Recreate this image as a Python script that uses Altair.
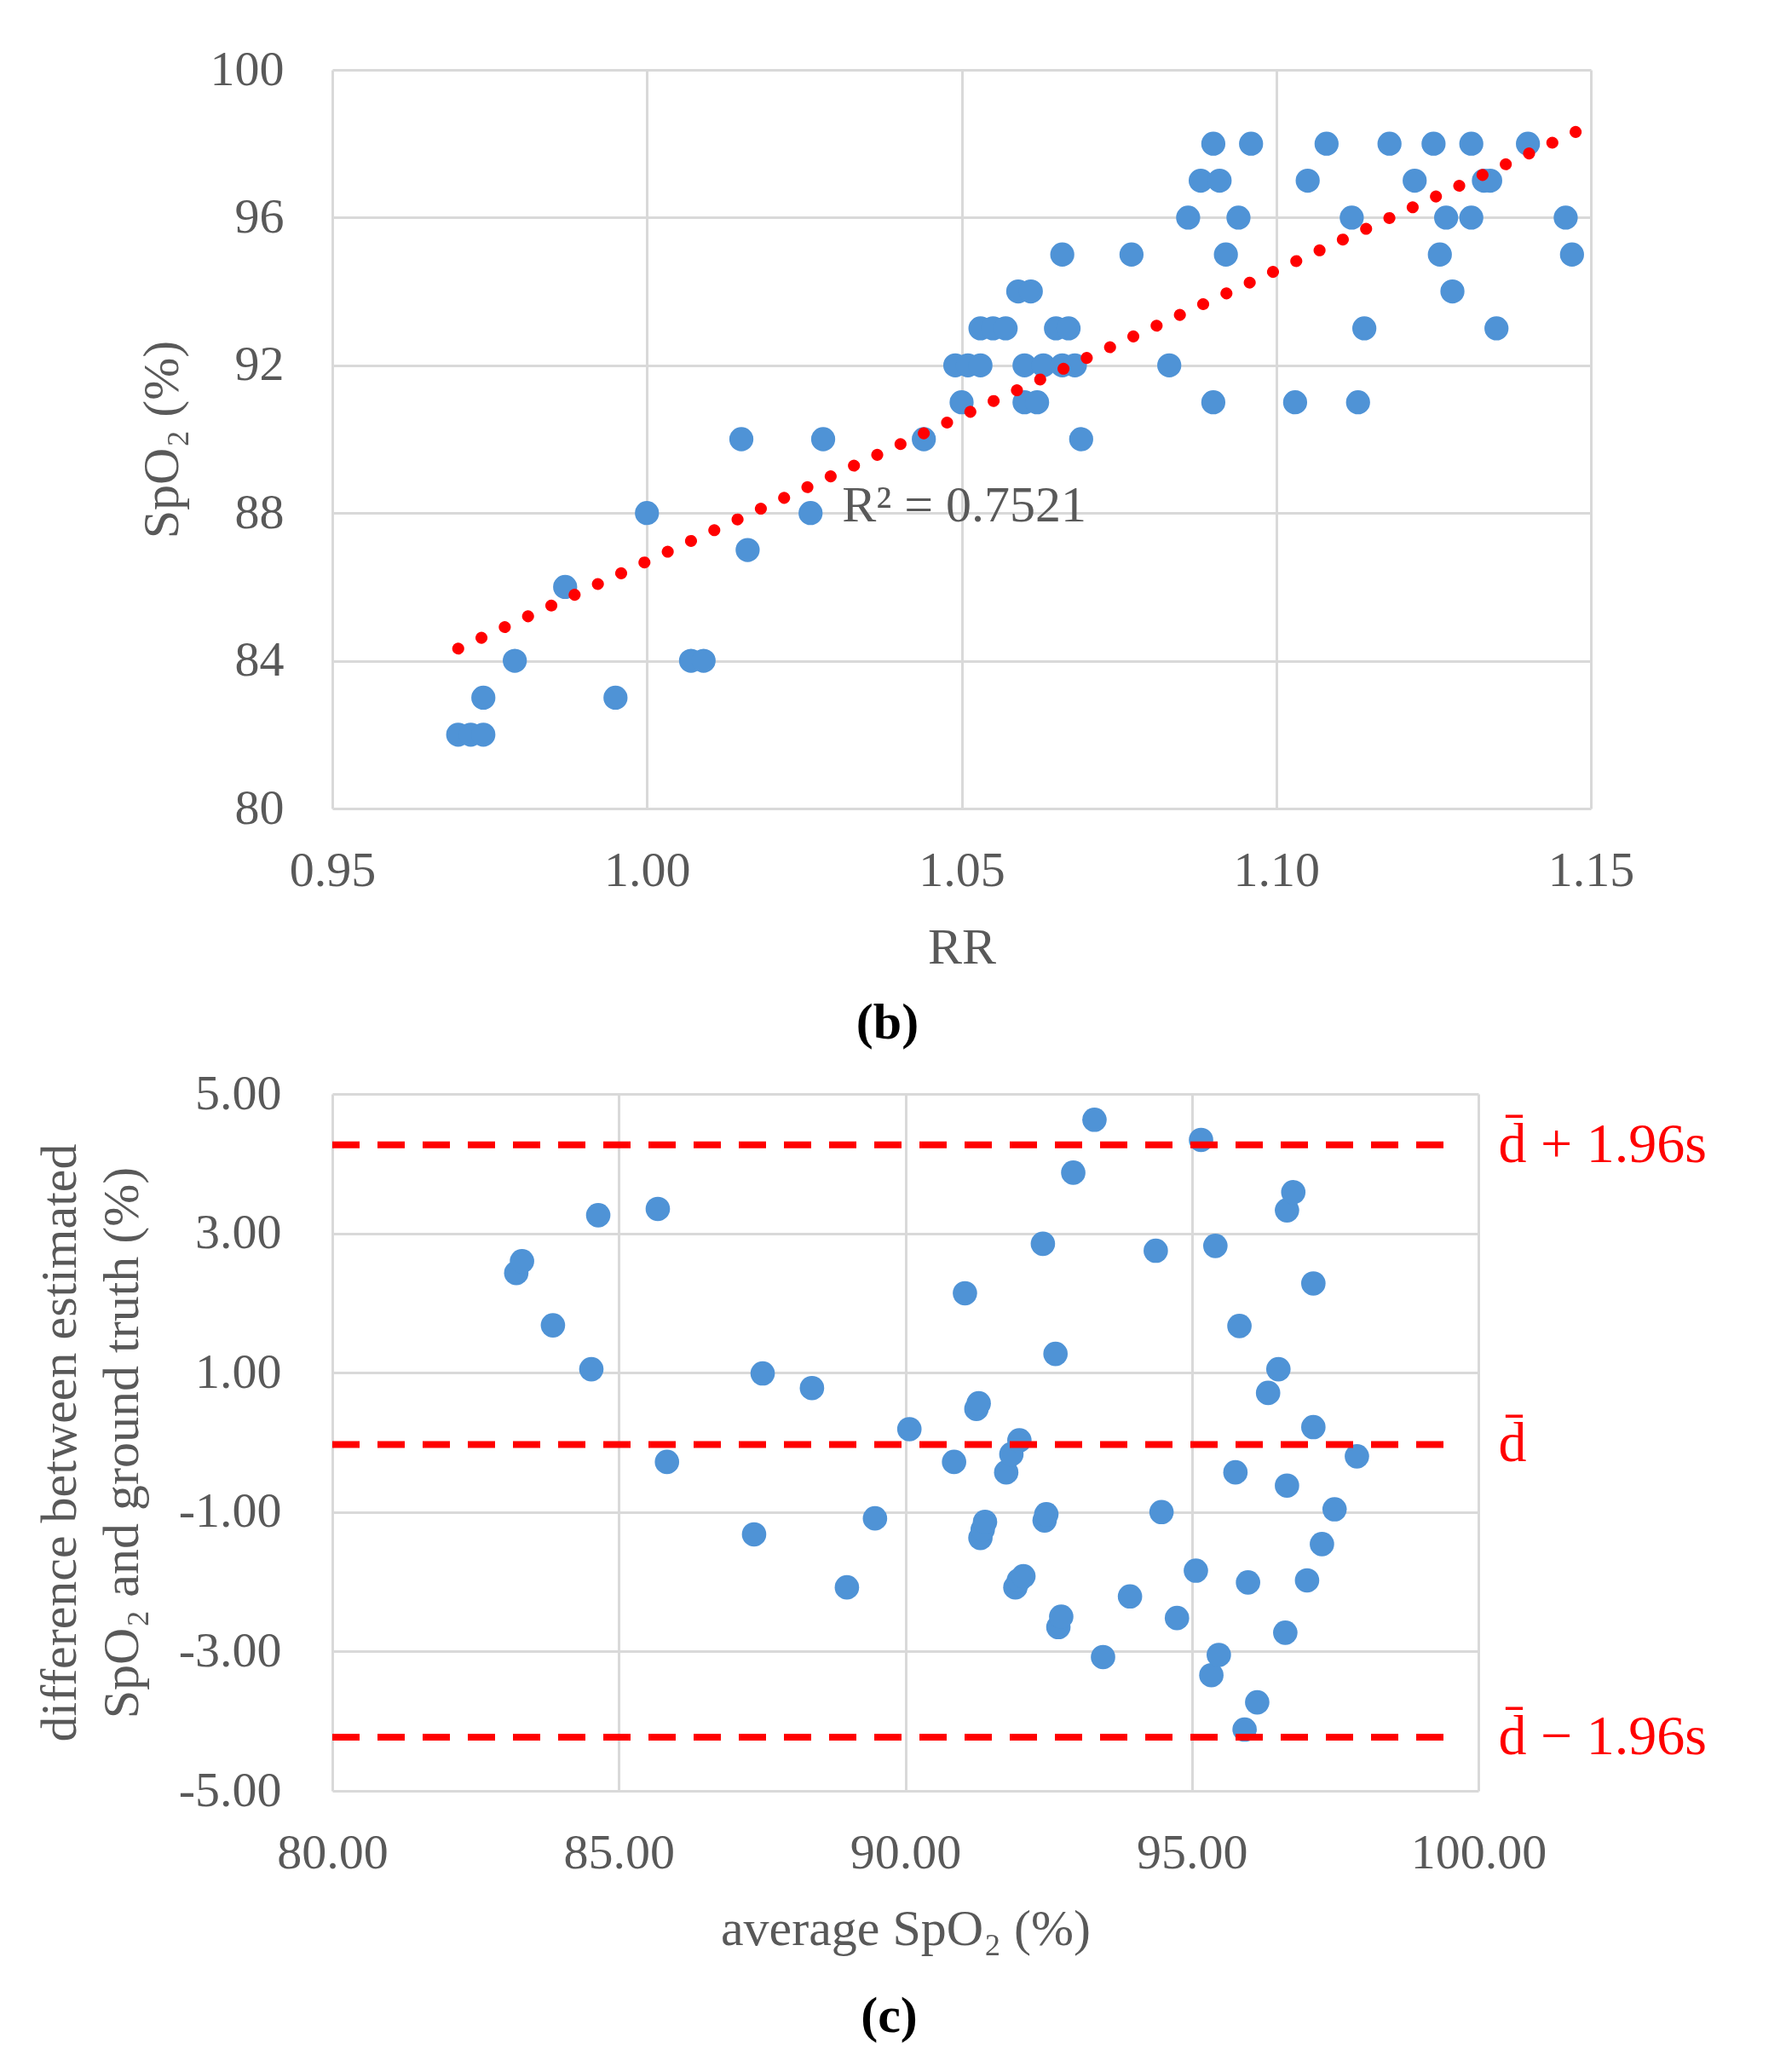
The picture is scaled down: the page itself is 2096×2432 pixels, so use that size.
import altair as alt
import pandas as pd

# ---------------- panel (b): SpO2 vs RR ----------------
rr = [0.970, 0.972, 0.974,
      0.974, 0.995,
      0.979, 1.007, 1.009,
      0.987,
      1.016,
      1.000, 1.026,
      1.015, 1.028, 1.044, 1.069,
      1.050, 1.060, 1.062, 1.090, 1.103, 1.113,
      1.049, 1.051, 1.053, 1.060, 1.063, 1.066, 1.068, 1.083,
      1.053, 1.055, 1.057, 1.065, 1.067, 1.114, 1.135,
      1.059, 1.061, 1.128,
      1.066, 1.077, 1.092, 1.126, 1.147,
      1.086, 1.094, 1.112, 1.127, 1.131, 1.146,
      1.088, 1.091, 1.105, 1.122, 1.133, 1.134,
      1.090, 1.096, 1.108, 1.118, 1.125, 1.131, 1.140]
spo2 = [82, 82, 82,
        83, 83,
        84, 84, 84,
        86,
        87,
        88, 88,
        90, 90, 90, 90,
        91, 91, 91, 91, 91, 91,
        92, 92, 92, 92, 92, 92, 92, 92,
        93, 93, 93, 93, 93, 93, 93,
        94, 94, 94,
        95, 95, 95, 95, 95,
        96, 96, 96, 96, 96, 96,
        97, 97, 97, 97, 97, 97,
        98, 98, 98, 98, 98, 98, 98]
trend_rr = [0.970, 1.150]
trend_spo2 = [84.33, 98.51]
r2_text = ["R\u00b2 = 0.7521"]
r2_rr = [1.031]
r2_spo2 = [88.2]
rr_ticks = [0.95, 1.00, 1.05, 1.10, 1.15]
spo2_ticks = [80, 84, 88, 92, 96, 100]

# ---------------- panel (c): Bland-Altman ----------------
avg_spo2 = [83.21, 83.31, 83.85, 84.52, 84.64, 85.68, 85.84, 87.36, 87.51, 88.37,
            88.98, 89.47, 90.07, 90.85, 91.04, 91.24, 91.28, 91.31, 91.35, 91.39,
            91.76, 91.85, 91.99, 91.92, 91.98, 92.06, 92.40, 92.43, 92.46, 92.62,
            92.67, 92.72, 92.93, 93.30, 93.45, 93.92, 94.37, 94.47, 94.74, 95.07,
            95.16, 95.34, 95.41, 95.47, 95.76, 95.83, 95.92, 95.98, 96.14, 96.33,
            96.51, 96.63, 96.66, 96.66, 96.77, 97.01, 97.12, 97.12, 97.27, 97.49,
            97.88]
diff = [2.43, 2.60, 1.68, 1.05, 3.26, 3.35, -0.28, -1.32, 0.99, 0.78,
        -2.08, -1.09, 0.19, -0.28, 2.14, 0.48, 0.56, -1.37, -1.25, -1.14,
        -0.43, -0.17, 0.03, -2.08, -1.98, -1.92, 2.85, -1.12, -1.03, 1.27,
        -2.65, -2.50, 3.87, 4.63, -3.08, -2.21, 2.75, -1.00, -2.52, -1.84,
        4.34, -3.34, 2.82, -3.05, -0.43, 1.67, -4.12, -2.01, -3.73, 0.71,
        1.05, -2.73, -0.62, 3.33, 3.59, -1.98, 2.28, 0.22, -1.46, -0.96,
        -0.20]
limit_values = [4.27, -0.03, -4.23]
limit_labels = ["d\u0304 + 1.96s", "d\u0304", "d\u0304 \u2212 1.96s"]
line_start = [80, 80, 80]
line_end = [99.55, 99.55, 99.55]
label_pos = [100.35, 100.35, 100.35]
avg_ticks = [80, 85, 90, 95, 100]
diff_ticks = [-5, -3, -1, 1, 3, 5]

FONT = "Liberation Serif"
BLUE = "#4f93d6"
RED = "#ff0000"
GREY = "#595959"

df_b = pd.DataFrame({"rr": rr, "spo2": spo2})
df_trend = pd.DataFrame({"rr": trend_rr, "spo2": trend_spo2})
df_r2 = pd.DataFrame({"rr": r2_rr, "spo2": r2_spo2, "t": r2_text})

xb = alt.X("rr:Q", scale=alt.Scale(domain=[0.95, 1.15], nice=False, zero=False),
           axis=alt.Axis(values=rr_ticks, format=".2f", title="RR", labelFlush=False,
                         labelPadding=44, titlePadding=32))
yb = alt.Y("spo2:Q", scale=alt.Scale(domain=[80, 100], nice=False, zero=False),
           axis=alt.Axis(values=spo2_ticks, title="SpO\u2082 (%)",
                         labelPadding=57, titlePadding=25))

pts_b = alt.Chart(df_b).mark_circle(size=800, color=BLUE, opacity=1).encode(x=xb, y=yb)
trend_b = alt.Chart(df_trend).mark_line(color=RED, strokeWidth=14, strokeDash=[0.1, 30],
                                        strokeCap="round").encode(x="rr:Q", y="spo2:Q")
r2_b = alt.Chart(df_r2).mark_text(align="left", baseline="middle", font=FONT,
                                  fontSize=60, color=GREY).encode(
    x="rr:Q", y="spo2:Q", text="t:N")

chart_b = alt.layer(pts_b, trend_b, r2_b).properties(
    width=1477, height=867,
    title=alt.TitleParams("(b)", orient="bottom", font=FONT, fontSize=60,
                          fontWeight="bold", color="black", dx=-87, offset=30))

df_c = pd.DataFrame({"avg": avg_spo2, "diff": diff})
df_lines = pd.DataFrame({"x0": line_start, "x1": line_end, "y": limit_values,
                         "lx": label_pos, "lab": limit_labels})

xc = alt.X("avg:Q", scale=alt.Scale(domain=[80, 100], nice=False, zero=False),
           axis=alt.Axis(values=avg_ticks, format=".2f", title="average SpO\u2082 (%)",
                         labelFlush=False, labelPadding=44, titlePadding=31))
yc = alt.Y("diff:Q", scale=alt.Scale(domain=[-5, 5], nice=False, zero=False),
           axis=alt.Axis(values=diff_ticks, format=".2f",
                         labelExpr="replace(datum.label, '\u2212', '-')",
                         title=["difference between estimated", "SpO\u2082 and ground truth (%)"],
                         titleLineHeight=73, labelPadding=60, titlePadding=35))

pts_c = alt.Chart(df_c).mark_circle(size=820, color=BLUE, opacity=1).encode(x=xc, y=yc)
lines_c = alt.Chart(df_lines).mark_rule(color=RED, strokeWidth=8, strokeDash=[32, 21]).encode(
    x="x0:Q", x2="x1:Q", y="y:Q")
labels_c = alt.Chart(df_lines).mark_text(align="left", baseline="middle", font=FONT,
                                         fontSize=66, color=RED).encode(
    x="lx:Q", y="y:Q", text="lab:N")

chart_c = alt.layer(pts_c, lines_c, labels_c).properties(
    width=1345, height=818,
    title=alt.TitleParams("(c)", orient="bottom", font=FONT, fontSize=60,
                          fontWeight="bold", color="black", dx=-19, offset=44))

chart = alt.vconcat(chart_b, chart_c, spacing=24).properties(
    padding={"left": 32, "top": 45, "right": 20, "bottom": 20}
).configure_axis(
    labelFont=FONT, titleFont=FONT, labelFontSize=58, titleFontSize=60,
    labelColor=GREY, titleColor=GREY, titleFontWeight="normal",
    grid=True, gridColor="#d9d9d9", gridWidth=3, domain=False, ticks=False
).configure_view(strokeWidth=0).configure_title(anchor="middle")

chart.save("out.html", embed_options={"renderer": "svg", "actions": False})
